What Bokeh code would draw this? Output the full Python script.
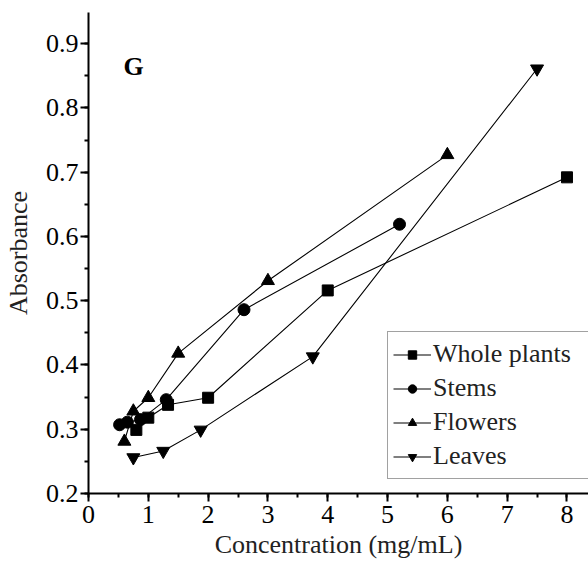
from bokeh.plotting import figure
from bokeh.models import FixedTicker, Label, Legend, LegendItem
from bokeh.embed import file_html
from bokeh.resources import INLINE

# Data
whole_x = [0.8, 1.0, 1.33, 2.0, 4.0, 8.0]
whole_y = [0.299, 0.318, 0.338, 0.349, 0.516, 0.692]
stems_x = [0.52, 0.65, 0.87, 1.3, 2.6, 5.2]
stems_y = [0.307, 0.311, 0.315, 0.346, 0.486, 0.619]
flowers_x = [0.6, 0.75, 1.0, 1.5, 3.0, 6.0]
flowers_y = [0.281, 0.328, 0.349, 0.418, 0.531, 0.727]
leaves_x = [0.75, 1.25, 1.875, 3.75, 7.5]
leaves_y = [0.256, 0.266, 0.299, 0.413, 0.861]

series_names = ["Whole plants", "Stems", "Flowers", "Leaves"]
x_ticks = [0, 1, 2, 3, 4, 5, 6, 7, 8]
y_ticks = [0.2, 0.3, 0.4, 0.5, 0.6, 0.7, 0.8, 0.9]

FONT = "'Liberation Serif', 'Times New Roman', serif"

p = figure(width=588, height=562, x_range=(0, 8.36), y_range=(0.2, 0.9485),
           output_backend="svg", toolbar_location=None,
           min_border_left=87, min_border_right=0, min_border_top=12, min_border_bottom=69)
p.outline_line_color = None
p.xgrid.visible = False
p.ygrid.visible = False
p.background_fill_color = "white"
p.border_fill_color = "white"

p.xaxis.ticker = FixedTicker(ticks=x_ticks, minor_ticks=[i * 0.5 for i in range(0, 17)])
p.yaxis.ticker = FixedTicker(ticks=y_ticks, minor_ticks=[0.2 + i * 0.05 for i in range(0, 16)])
p.xaxis.axis_label = "Concentration (mg/mL)"
p.yaxis.axis_label = "Absorbance"
for ax in (p.xaxis[0], p.yaxis[0]):
    ax.axis_line_color = "black"
    ax.axis_line_width = 2
    ax.major_tick_line_color = "black"
    ax.minor_tick_line_color = "black"
    ax.major_tick_line_width = 2
    ax.minor_tick_line_width = 2
    ax.major_tick_out = 8
    ax.major_tick_in = 0
    ax.minor_tick_out = 4
    ax.minor_tick_in = 0
    ax.major_label_text_font = FONT
    ax.major_label_text_font_size = "26px"
    ax.major_label_text_color = "black"
    ax.axis_label_text_font = FONT
    ax.axis_label_text_font_size = "26px"
    ax.axis_label_text_font_style = "normal"
    ax.axis_label_text_color = "#222222"
p.xaxis.major_label_standoff = 4
p.xaxis.axis_label_standoff = 4
p.yaxis.major_label_standoff = 2
p.yaxis.axis_label_standoff = 10

lines_kw = dict(line_color="black", line_width=1.1)
r1l = p.line(whole_x, whole_y, **lines_kw)
r1m = p.scatter(whole_x, whole_y, marker="square", size=11, color="black")
r2l = p.line(stems_x, stems_y, **lines_kw)
r2m = p.scatter(stems_x, stems_y, marker="circle", size=12, color="black")
r3l = p.line(flowers_x, flowers_y, **lines_kw)
r3m = p.scatter(flowers_x, flowers_y, marker="triangle", size=13, color="black")
r4l = p.line(leaves_x, leaves_y, **lines_kw)
r4m = p.scatter(leaves_x, leaves_y, marker="inverted_triangle", size=13, color="black")

legend = Legend(items=[
    LegendItem(label=series_names[0], renderers=[r1l, r1m]),
    LegendItem(label=series_names[1], renderers=[r2l, r2m]),
    LegendItem(label=series_names[2], renderers=[r3l, r3m]),
    LegendItem(label=series_names[3], renderers=[r4l, r4m]),
], location=(299, 14))
legend.label_text_font = FONT
legend.label_text_font_size = "26px"
legend.label_text_color = "#222222"
legend.glyph_width = 38
legend.glyph_height = 21
legend.label_height = 34
legend.label_width = 150
legend.label_standoff = 2
legend.spacing = 0
legend.padding = 5
legend.margin = 0
legend.border_line_color = "#444444"
legend.border_line_width = 1.5
legend.background_fill_alpha = 1
p.add_layout(legend, "center")

p.add_layout(Label(x=45, y=427, x_units="screen", y_units="screen", text="G",
                   text_font=FONT, text_font_size="26px", text_font_style="bold",
                   text_align="center", text_baseline="middle", text_color="black"))

open("out.html", "w").write(file_html(p, INLINE))
